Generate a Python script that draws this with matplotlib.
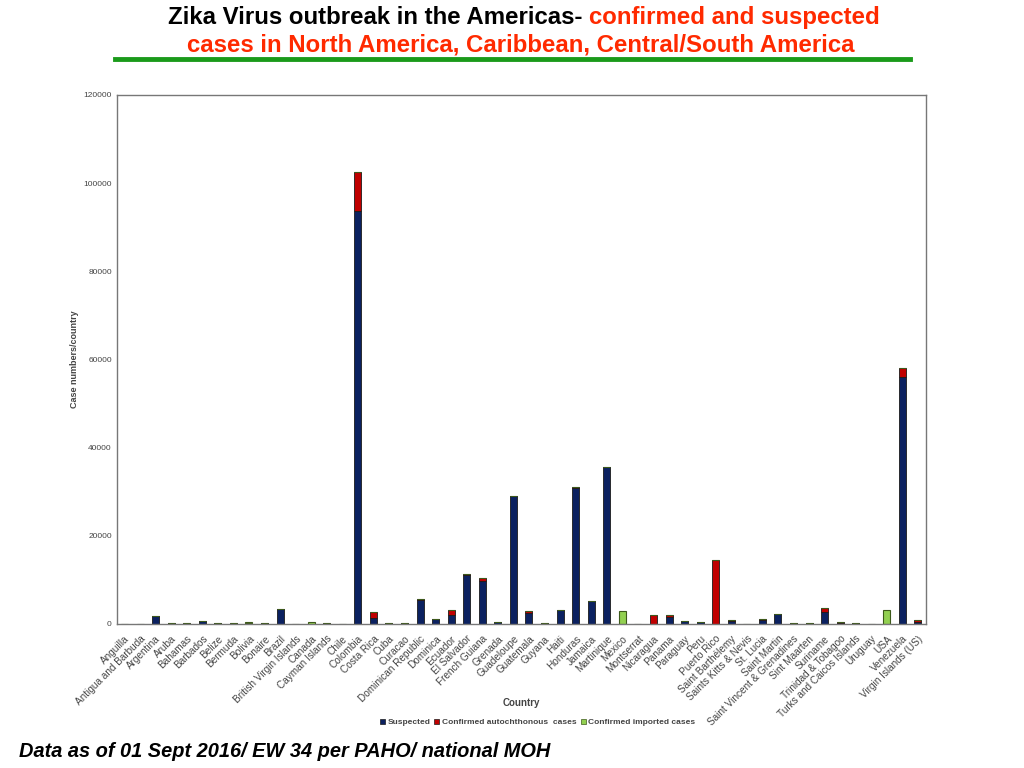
import numpy as np
import matplotlib
matplotlib.use('Agg')
from matplotlib import pyplot as plt
from matplotlib.patches import Patch

countries = ['Anguilla', 'Antigua and Barbuda', 'Argentina', 'Aruba', 'Bahamas', 'Barbados',
             'Belize', 'Bermuda', 'Bolivia', 'Bonaire', 'Brazil', 'British Virgin Islands',
             'Canada', 'Cayman Islands', 'Chile', 'Colombia', 'Costa Rica', 'Cuba', 'Curacao',
             'Dominican Republic', 'Dominica', 'Ecuador', 'El Salvador', 'French Guiana',
             'Grenada', 'Guadeloupe', 'Guatemala', 'Guyana', 'Haiti', 'Honduras', 'Jamaica',
             'Martinique', 'Mexico', 'Montserrat', 'Nicaragua', 'Panama', 'Paraguay', 'Peru',
             'Puerto Rico', 'Saint Barthélemy', 'Saints Kitts & Nevis', 'St. Lucia',
             'Saint Martin', 'Saint Vincent & Grenadines', 'Sint Maarten', 'Suriname',
             'Trinidad & Tobagoo', 'Turks and Caicos Islands', 'Uruguay', 'USA', 'Venezuela',
             'Virgin Islands (US)']

suspected = [20, 20, 1800, 200, 100, 650, 120, 100, 150, 120, 3300, 80, 0, 100, 80,
             93650, 1400, 120, 150, 5400, 1100, 2000, 11200, 9700, 450, 29000, 2400, 150,
             3200, 30800, 5200, 35500, 0, 0, 0, 1600, 700, 350, 100, 750, 0, 1000, 2300,
             250, 120, 2800, 200, 150, 0, 0, 56000, 400]
confirmed_auto = [30, 30, 50, 50, 50, 50, 30, 30, 100, 30, 50, 30, 0, 30, 0,
                  8750, 1300, 30, 30, 300, 30, 1200, 100, 700, 30, 100, 500, 30,
                  30, 200, 50, 50, 0, 0, 2000, 400, 30, 50, 14400, 50, 0, 50, 50,
                  50, 30, 800, 300, 50, 0, 0, 2000, 600]
confirmed_imported = [0, 0, 0, 0, 0, 0, 0, 0, 100, 0, 0, 0, 350, 0, 0,
                      0, 0, 0, 0, 0, 0, 0, 0, 0, 0, 0, 0, 0,
                      0, 0, 0, 0, 2900, 0, 0, 0, 0, 0, 0, 0, 0, 0, 0,
                      0, 0, 0, 0, 0, 0, 3200, 0, 0]

c_susp = '#0b2160'
c_auto = '#c00000'
c_imp = '#92d050'

plt.rcParams['font.family'] = ['Liberation Sans', 'DejaVu Sans']

fig = plt.figure(figsize=(10.24, 7.68), dpi=100)
ax = fig.add_axes([0.114, 0.1875, 0.790, 0.689])

x = np.arange(len(countries))
s = np.array(suspected)
a = np.array(confirmed_auto)
im = np.array(confirmed_imported)
w = 0.45
ax.bar(x, s, w, color=c_susp, edgecolor='#1a1a1a', linewidth=0.6)
ax.bar(x, a, w, bottom=s, color=c_auto, edgecolor='#1a1a1a', linewidth=0.6)
ax.bar(x, im, w, bottom=s + a, color=c_imp, edgecolor='#3d5a1a', linewidth=0.8)

ax.set_xlim(-0.5, len(countries) - 0.5)
ax.set_ylim(0, 120000)
ax.set_yticks(np.arange(0, 120001, 20000))
ax.tick_params(axis='y', labelsize=6, colors='#444444', length=0)
ax.tick_params(axis='x', length=0, pad=7)
ax.set_xticks(x)
ax.set_xticklabels(countries, rotation=45, ha='right', rotation_mode='anchor',
                   fontsize=7.2, color='#444444')
for sp in ax.spines.values():
    sp.set_color('#777777')
    sp.set_linewidth(1.0)

ax.set_ylabel('Case numbers/country', fontsize=6.5, color='#444444', fontweight='bold')
ax.yaxis.set_label_coords(-0.047, 0.5)
ax.set_xlabel('Country', fontsize=7, color='#444444', fontweight='bold')
ax.xaxis.set_label_coords(0.5, -0.140)

handles = [Patch(facecolor=c_susp, edgecolor='#1a1a1a', linewidth=0.5),
           Patch(facecolor=c_auto, edgecolor='#1a1a1a', linewidth=0.5),
           Patch(facecolor=c_imp, edgecolor='#3d5a1a', linewidth=0.5)]
labels = ['Suspected', 'Confirmed autochthonous  cases', 'Confirmed imported cases']
leg = fig.legend(handles, labels, loc='center', bbox_to_anchor=(0.525, 0.059), ncol=3,
                 frameon=False, fontsize=6, handlelength=0.6, handleheight=0.6,
                 handletextpad=0.3, columnspacing=0.5)
for t in leg.get_texts():
    t.set_color('#444444')
    t.set_fontweight('bold')

# title in two colours
tfont = dict(fontsize=17.3, fontweight='bold')
t1 = fig.text(0.164, 0.977, 'Zika Virus outbreak in the Americas- ', color='black',
              ha='left', va='center', **tfont)
fig.canvas.draw()
bb = t1.get_window_extent()
fig.text(bb.x1 / fig.bbox.width, 0.977, 'confirmed and suspected', color='#ff2a00',
         ha='left', va='center', **tfont)
fig.text(0.509, 0.942, 'cases in North America, Caribbean, Central/South America',
         color='#ff2a00', ha='center', va='center', **tfont)
fig.add_artist(plt.Line2D([0.112, 0.889], [0.923, 0.923], color='#1a9a1a', linewidth=3.5))

fig.text(0.019, 0.021, 'Data as of 01 Sept 2016/ EW 34 per PAHO/ national MOH',
         fontsize=14.4, fontweight='bold', fontstyle='italic', color='black',
         ha='left', va='center')

fig.savefig('out.png', dpi=100)
